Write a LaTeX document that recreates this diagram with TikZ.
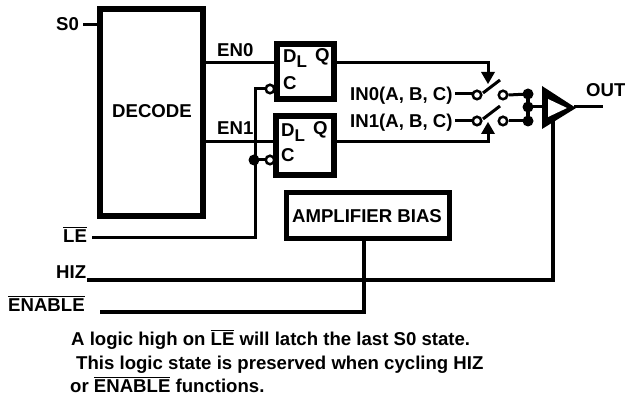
\documentclass[tikz,border=0pt]{standalone}
\usepackage{fontspec}
\usepackage{calc}
\setmainfont{Liberation Sans}
\usetikzlibrary{arrows.meta}
\tikzset{
  x=1pt,y=-1pt,
  txt/.style={font=\fontsize{18.6}{20}\selectfont\bfseries,inner sep=0pt,text=black},
  lab/.style={txt,anchor=base west},
  wire/.style={line width=3pt,line cap=butt,line join=miter},
  heavy/.style={line width=4pt},
  bubble/.style={circle,draw,line width=2.5pt,fill=white,minimum size=8.5pt,inner sep=0pt},
  jdot/.style={circle,fill=black,minimum size=11pt,inner sep=0pt},
}
\newcommand{\ovl}[1]{\rlap{\raisebox{15pt}{\rule{\widthof{#1}}{1pt}}}#1}
\newcommand{\subL}{\raisebox{-5pt}{\fontsize{17}{20}\selectfont L}}
\begin{document}
\begin{tikzpicture}
\useasboundingbox (0,0) rectangle (625,398);
% boxes
\draw[line width=6pt] (100,9) rectangle (203,216);
\node[txt,anchor=base] (decT) at (152,118) {DECODE};
\draw[line width=6pt] (277,44) rectangle (334,99);
\draw[line width=6pt] (276,116) rectangle (334,175);
\draw[line width=5pt] (286,193) rectangle (449,239);
\node[txt,anchor=base] (amp) at (367,223) {AMPLIFIER BIAS};
% wires
\coordinate (s0a) at (83,25);\coordinate (s0b) at (98,25);
\draw[wire] (s0a)--(s0b);
\coordinate (en0a) at (205,63);\coordinate (en0b) at (275,63);
\draw[wire] (en0a)--(en0b);
\coordinate (en1a) at (205,142);\coordinate (en1b) at (274,142);
\draw[wire] (en1a)--(en1b);
\coordinate (q0a) at (337,63);\coordinate (q0c) at (488,63);\coordinate (q0d) at (488,75);
\draw[wire] (q0a)--(q0c)--(q0d);
\coordinate (q1a) at (336,142);\coordinate (q1c) at (488,142);\coordinate (q1d) at (488,130);
\draw[wire] (q1a)--(q1c)--(q1d);
\coordinate (t0) at (488,84);\coordinate (t1) at (488,122);
\fill (t0)--(481,72)--(495,72)--cycle;
\fill (t1)--(481,134)--(495,134)--cycle;
% latch enable
\coordinate (lea) at (92,238);\coordinate (lec) at (255,238);
\draw[wire] (lea)--(lec)--(255,89)--(266,89);
\draw[wire] (255,160)--(266,160);
\node[jdot] (jle) at (254,160) {};
\node[bubble] (c0) at (270,89) {};
\node[bubble] (c1) at (270,160) {};
% hiz / enable
\draw[heavy] (87,280)--(553,280)--(553,118);
\draw[heavy] (100,312)--(364,312)--(364,239);
% switches
\coordinate (i0) at (455,94);\coordinate (i1) at (455,121);
\draw[wire] (i0)--(473,94);
\draw[wire] (i1)--(473,121);
\node[jdot] (d0) at (528,94) {};
\node[jdot] (d1) at (528,107) {};
\node[jdot] (d2) at (528,121) {};
\node[bubble] (a0) at (477,95) {};
\node[bubble] (a1) at (477,121) {};
\node[bubble] (b0) at (503,95) {};
\node[bubble] (b1) at (503,121) {};
\draw[wire] (483,93)--(500,80);
\draw[wire] (483,119)--(500,106);
\draw[wire] (b0.east)--(d0.center);
\draw[wire] (b1.east)--(d2.center);
\draw[line width=4pt] (d0.center)--(d2.center);
\draw[wire] (d1.center)--(545,107);
\fill (542,86)--(576,108)--(542,129)--cycle;
\fill[white] (548,99)--(567,108)--(548,117)--cycle;
\draw[wire] (574,107)--(603,107);
% text
\node[lab] (s0) at (56,31) {S0};
\node[lab] (en0) at (217,57) {EN0};
\node[lab] (en1) at (217,135) {EN1};
\node[lab] (d0t) at (283,63) {D\subL};
\node[lab] (q0t) at (315,62) {Q};
\node[lab] (c0t) at (283,90) {C};
\node[lab] (d1t) at (281,137) {D\subL};
\node[lab] (q1t) at (313,135) {Q};
\node[lab] (c1t) at (281,162) {C};
\node[lab] (in0) at (350,101) {IN0(A, B, C)};
\node[lab] (in1) at (350,128) {IN1(A, B, C)};
\node[lab] (out) at (586,97) {OUT};
\node[lab] (le) at (63,243) {\ovl{LE}};
\node[lab] (hiz) at (56,279) {HIZ};
\node[lab] (en) at (8,312) {\ovl{ENABLE}};
\node[lab] (n1) at (71,346) {A logic high on \ovl{LE} will latch the last S0 state.};
\node[lab] (n2) at (76,370) {This logic state is preserved when cycling HIZ};
\node[lab] (n3) at (70,393) {or \ovl{ENABLE} functions.};
\end{tikzpicture}
\end{document}
